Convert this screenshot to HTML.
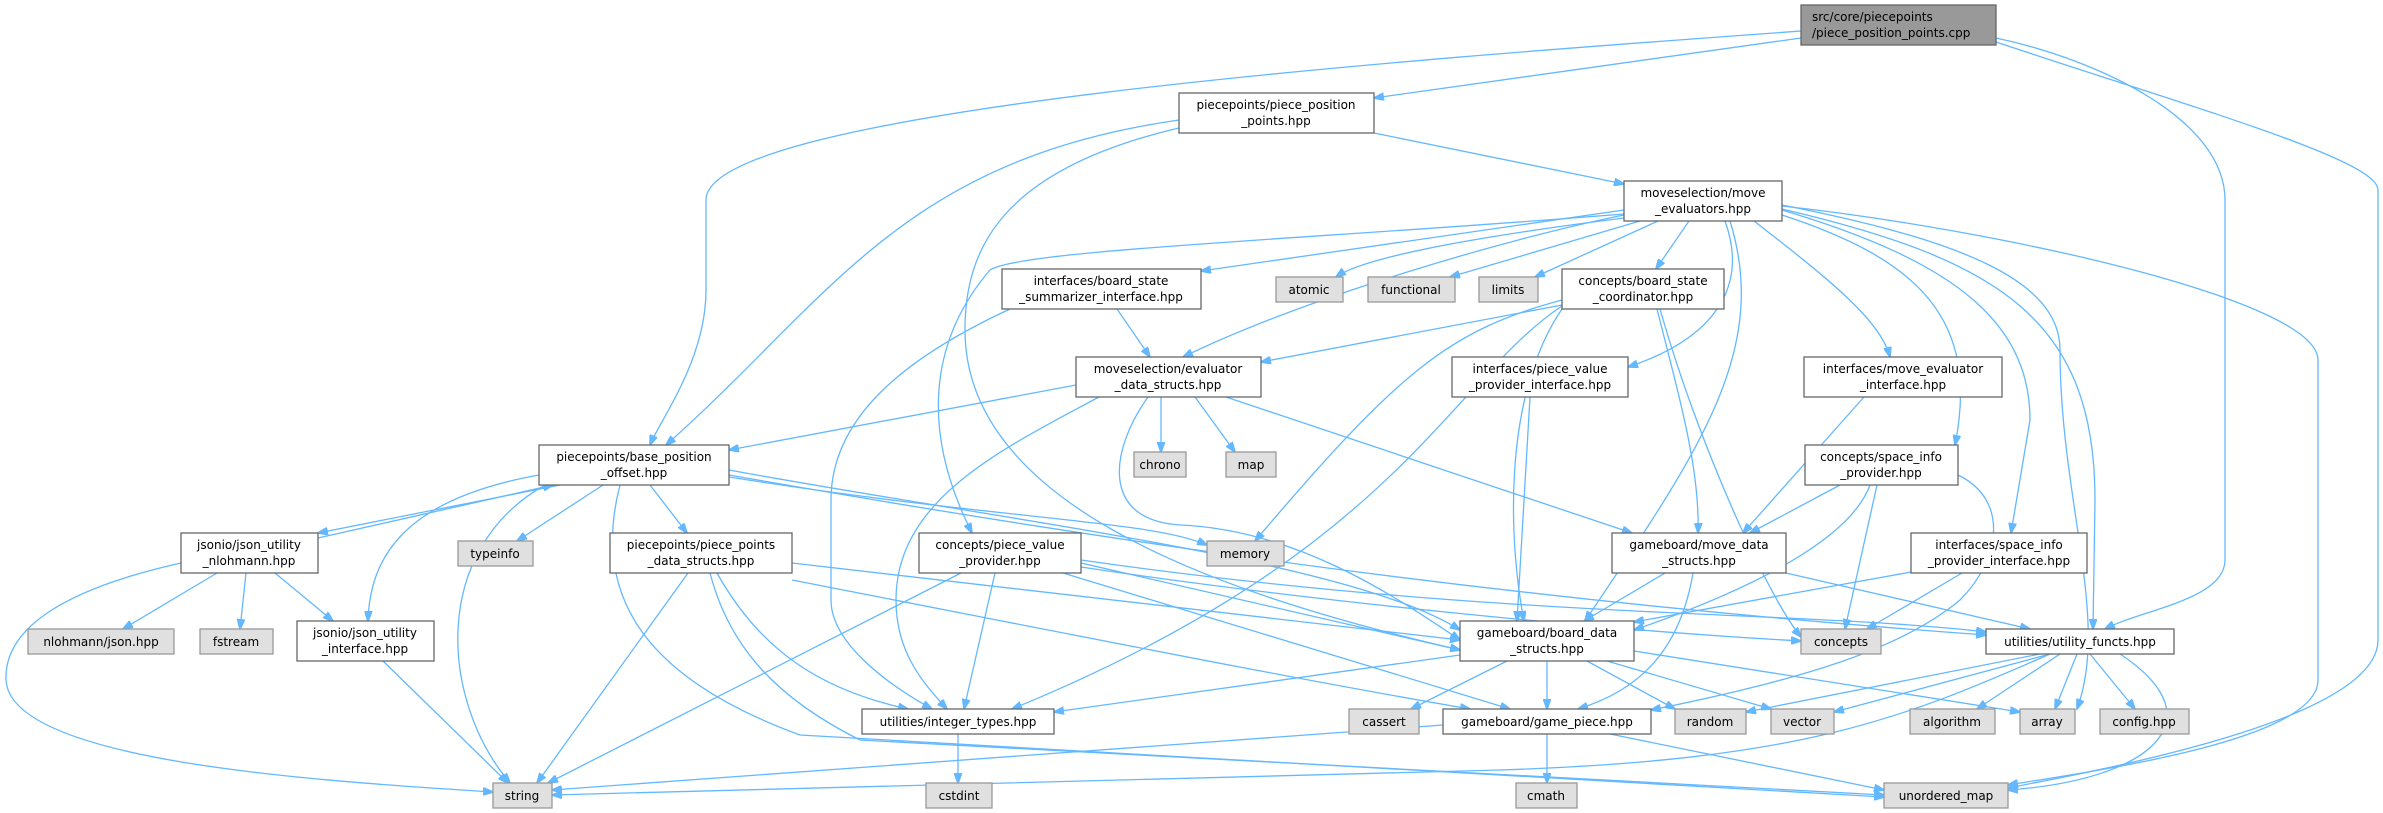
<!DOCTYPE html>
<html><head><meta charset="utf-8"><style>
html,body{margin:0;padding:0;background:#fff;}
svg{display:block;}
text{font-family:"DejaVu Sans","Liberation Sans",sans-serif;font-size:12px;fill:#000;}
.n{fill:#fff;stroke:#666;stroke-width:1.3}
.g{fill:#e0e0e0;stroke:#999;stroke-width:1.3}
.e{fill:none;stroke:#63b8ff;stroke-width:1.3}
</style></head><body>
<svg width="2383" height="813" viewBox="0 0 2383 813" xmlns="http://www.w3.org/2000/svg">
<defs><marker id="a" markerWidth="11" markerHeight="8" refX="10" refY="4" orient="auto" markerUnits="userSpaceOnUse"><path d="M0,0 L11,4 L0,8 z" fill="#63b8ff" stroke="#63b8ff"/></marker></defs>
<g class="e" marker-end="url(#a)">
<path d="M1801,38 L1374,98"/>
<path d="M1801,31 C1400,60 706,110 706,200 L706,290 C706,360 660,420 650,445"/>
<path d="M1996,38 C2100,60 2225,120 2225,200 L2225,560 C2225,600 2140,610 2105,629"/>
<path d="M1996,42 C2200,110 2378,160 2378,190 L2378,640 C2378,720 2100,770 2008,788"/>
<path d="M1179,120 C900,160 830,300 666,445"/>
<path d="M1179,128 C1000,170 965,250 965,330 C965,500 1200,590 1460,650"/>
<path d="M1374,133 L1624,184"/>
<path d="M1624,210 L1201,271"/>
<path d="M1624,215 C1500,240 1300,300 1183,357"/>
<path d="M1562,305 L1261,362"/>
<path d="M1117,309 L1150,357"/>
<path d="M1010,309 C900,360 831,420 831,500 L831,600 C831,640 880,680 932,709"/>
<path d="M1624,218 C1450,240 1360,260 1336,277"/>
<path d="M1640,221 L1450,277"/>
<path d="M1658,221 L1535,277"/>
<path d="M1689,221 L1656,269"/>
<path d="M1725,221 C1750,290 1710,340 1628,367"/>
<path d="M1754,221 C1830,280 1880,320 1890,357"/>
<path d="M1624,214 C1300,240 1020,250 990,270 C930,340 920,430 972,533"/>
<path d="M1730,221 C1770,350 1700,450 1585,621"/>
<path d="M1782,215 C1920,260 1980,320 1955,445"/>
<path d="M1782,210 C1950,260 2030,320 2030,420 L2011,533"/>
<path d="M1782,209 C2000,260 2095,320 2095,500 L2093,629"/>
<path d="M1782,205 C1960,240 2060,280 2060,350 C2060,500 2110,620 2077,709"/>
<path d="M1782,206 C2000,230 2318,300 2318,360 L2318,680 C2318,740 2100,770 2008,785"/>
<path d="M1562,300 C1450,330 1400,370 1255,541"/>
<path d="M1562,306 C1450,380 1400,550 1012,709"/>
<path d="M1562,309 C1500,400 1510,550 1524,621"/>
<path d="M1657,309 C1680,400 1700,470 1698,533"/>
<path d="M1660,309 C1700,450 1770,600 1801,637"/>
<path d="M1076,385 L729,450"/>
<path d="M1161,397 L1161,452"/>
<path d="M1195,397 L1235,452"/>
<path d="M1226,397 L1632,533"/>
<path d="M1099,397 C1000,450 896,500 896,600 C896,650 920,680 947,709"/>
<path d="M1148,397 C1110,450 1100,520 1180,525 C1300,530 1400,600 1460,640"/>
<path d="M1530,397 L1517,621"/>
<path d="M1864,397 L1743,533"/>
<path d="M1840,485 L1750,533"/>
<path d="M1870,485 C1850,540 1750,590 1634,630"/>
<path d="M1877,485 L1845,629"/>
<path d="M1958,475 C2010,500 2000,560 1960,600 C1900,650 1800,680 1651,710"/>
<path d="M1911,572 L1634,622"/>
<path d="M1962,573 L1867,629"/>
<path d="M1665,573 L1584,621"/>
<path d="M1693,573 C1680,650 1640,690 1578,709"/>
<path d="M1786,573 L2030,629"/>
<path d="M1460,655 L1054,712"/>
<path d="M1507,661 L1411,709"/>
<path d="M1547,661 L1547,709"/>
<path d="M1587,661 L1675,709"/>
<path d="M1607,661 L1771,709"/>
<path d="M1634,651 L2020,712"/>
<path d="M2060,654 L1977,709"/>
<path d="M2077,654 L2055,709"/>
<path d="M2090,654 L2135,709"/>
<path d="M2120,654 C2220,720 2150,780 2008,790"/>
<path d="M2040,654 L1746,712"/>
<path d="M2050,654 L1834,712"/>
<path d="M2050,654 C1900,720 1800,760 1500,770 L552,795"/>
<path d="M1443,725 L552,790"/>
<path d="M1547,734 L1547,783"/>
<path d="M1610,734 L1884,790"/>
<path d="M958,734 L958,783"/>
<path d="M710,573 C730,650 780,700 860,740 L1884,795"/>
<path d="M620,485 C590,600 650,680 800,735 L1884,797"/>
<path d="M560,485 L318,533"/>
<path d="M318,538 L553,485"/>
<path d="M539,475 C400,500 370,560 368,621"/>
<path d="M545,485 C430,550 440,700 510,783"/>
<path d="M603,485 L517,541"/>
<path d="M650,485 L687,533"/>
<path d="M729,477 C1000,520 1150,520 1207,545"/>
<path d="M729,470 C1000,520 1350,560 1460,630"/>
<path d="M729,475 C1100,540 1500,600 1986,635"/>
<path d="M217,573 L123,629"/>
<path d="M246,573 L240,629"/>
<path d="M275,573 L333,621"/>
<path d="M181,563 C60,590 4,630 6,680 C10,760 300,780 493,792"/>
<path d="M383,661 L508,783"/>
<path d="M688,573 L537,783"/>
<path d="M717,573 C760,650 820,690 908,709"/>
<path d="M792,580 C1100,640 1300,680 1470,709"/>
<path d="M792,563 L1460,640"/>
<path d="M961,573 L548,783"/>
<path d="M995,573 L964,709"/>
<path d="M1081,563 L1460,650"/>
<path d="M1063,573 L1510,709"/>
<path d="M1081,567 C1300,600 1600,630 1801,641"/>
<path d="M1081,560 C1500,620 1800,610 1986,632"/>
</g>
<rect x="1801" y="5" width="195" height="40" fill="#999" stroke="#666" stroke-width="1.3"/>
<text x="1812" y="21">src/core/piecepoints</text><text x="1812" y="37">/piece_position_points.cpp</text>
<g>
<rect class="n" x="1179" y="93" width="195" height="40"/><text x="1276" y="109" text-anchor="middle">piecepoints/piece_position</text><text x="1276" y="125" text-anchor="middle">_points.hpp</text>
<rect class="n" x="1624" y="181" width="158" height="40"/><text x="1703" y="197" text-anchor="middle">moveselection/move</text><text x="1703" y="213" text-anchor="middle">_evaluators.hpp</text>
<rect class="n" x="1002" y="269" width="199" height="40"/><text x="1101" y="285" text-anchor="middle">interfaces/board_state</text><text x="1101" y="301" text-anchor="middle">_summarizer_interface.hpp</text>
<rect class="g" x="1276" y="277" width="67" height="25"/><text x="1309" y="294" text-anchor="middle">atomic</text>
<rect class="g" x="1368" y="277" width="87" height="25"/><text x="1411" y="294" text-anchor="middle">functional</text>
<rect class="g" x="1479" y="277" width="59" height="25"/><text x="1508" y="294" text-anchor="middle">limits</text>
<rect class="n" x="1562" y="269" width="162" height="40"/><text x="1643" y="285" text-anchor="middle">concepts/board_state</text><text x="1643" y="301" text-anchor="middle">_coordinator.hpp</text>
<rect class="n" x="1076" y="357" width="185" height="40"/><text x="1168" y="373" text-anchor="middle">moveselection/evaluator</text><text x="1168" y="389" text-anchor="middle">_data_structs.hpp</text>
<rect class="n" x="1452" y="357" width="176" height="40"/><text x="1540" y="373" text-anchor="middle">interfaces/piece_value</text><text x="1540" y="389" text-anchor="middle">_provider_interface.hpp</text>
<rect class="n" x="1804" y="357" width="198" height="40"/><text x="1903" y="373" text-anchor="middle">interfaces/move_evaluator</text><text x="1903" y="389" text-anchor="middle">_interface.hpp</text>
<rect class="n" x="539" y="445" width="190" height="40"/><text x="634" y="461" text-anchor="middle">piecepoints/base_position</text><text x="634" y="477" text-anchor="middle">_offset.hpp</text>
<rect class="g" x="1134" y="452" width="52" height="25"/><text x="1160" y="469" text-anchor="middle">chrono</text>
<rect class="g" x="1226" y="452" width="50" height="25"/><text x="1251" y="469" text-anchor="middle">map</text>
<rect class="n" x="1805" y="445" width="153" height="40"/><text x="1881" y="461" text-anchor="middle">concepts/space_info</text><text x="1881" y="477" text-anchor="middle">_provider.hpp</text>
<rect class="n" x="181" y="533" width="137" height="40"/><text x="249" y="549" text-anchor="middle">jsonio/json_utility</text><text x="249" y="565" text-anchor="middle">_nlohmann.hpp</text>
<rect class="g" x="458" y="541" width="75" height="25"/><text x="495" y="558" text-anchor="middle">typeinfo</text>
<rect class="n" x="610" y="533" width="182" height="40"/><text x="701" y="549" text-anchor="middle">piecepoints/piece_points</text><text x="701" y="565" text-anchor="middle">_data_structs.hpp</text>
<rect class="n" x="919" y="533" width="162" height="40"/><text x="1000" y="549" text-anchor="middle">concepts/piece_value</text><text x="1000" y="565" text-anchor="middle">_provider.hpp</text>
<rect class="g" x="1207" y="541" width="77" height="25"/><text x="1245" y="558" text-anchor="middle">memory</text>
<rect class="n" x="1612" y="533" width="174" height="40"/><text x="1699" y="549" text-anchor="middle">gameboard/move_data</text><text x="1699" y="565" text-anchor="middle">_structs.hpp</text>
<rect class="n" x="1911" y="533" width="176" height="40"/><text x="1999" y="549" text-anchor="middle">interfaces/space_info</text><text x="1999" y="565" text-anchor="middle">_provider_interface.hpp</text>
<rect class="g" x="28" y="629" width="146" height="25"/><text x="101" y="646" text-anchor="middle">nlohmann/json.hpp</text>
<rect class="g" x="200" y="629" width="73" height="25"/><text x="236" y="646" text-anchor="middle">fstream</text>
<rect class="n" x="297" y="621" width="137" height="40"/><text x="365" y="637" text-anchor="middle">jsonio/json_utility</text><text x="365" y="653" text-anchor="middle">_interface.hpp</text>
<rect class="n" x="1460" y="621" width="174" height="40"/><text x="1547" y="637" text-anchor="middle">gameboard/board_data</text><text x="1547" y="653" text-anchor="middle">_structs.hpp</text>
<rect class="g" x="1801" y="629" width="80" height="25"/><text x="1841" y="646" text-anchor="middle">concepts</text>
<rect class="n" x="1986" y="629" width="188" height="25"/><text x="2080" y="646" text-anchor="middle">utilities/utility_functs.hpp</text>
<rect class="n" x="862" y="709" width="192" height="25"/><text x="958" y="726" text-anchor="middle">utilities/integer_types.hpp</text>
<rect class="g" x="1349" y="709" width="70" height="25"/><text x="1384" y="726" text-anchor="middle">cassert</text>
<rect class="n" x="1443" y="709" width="208" height="25"/><text x="1547" y="726" text-anchor="middle">gameboard/game_piece.hpp</text>
<rect class="g" x="1675" y="709" width="71" height="25"/><text x="1710" y="726" text-anchor="middle">random</text>
<rect class="g" x="1771" y="709" width="63" height="25"/><text x="1802" y="726" text-anchor="middle">vector</text>
<rect class="g" x="1910" y="709" width="85" height="25"/><text x="1952" y="726" text-anchor="middle">algorithm</text>
<rect class="g" x="2020" y="709" width="55" height="25"/><text x="2047" y="726" text-anchor="middle">array</text>
<rect class="g" x="2100" y="709" width="89" height="25"/><text x="2144" y="726" text-anchor="middle">config.hpp</text>
<rect class="g" x="493" y="783" width="59" height="25"/><text x="522" y="800" text-anchor="middle">string</text>
<rect class="g" x="926" y="783" width="66" height="25"/><text x="959" y="800" text-anchor="middle">cstdint</text>
<rect class="g" x="1516" y="783" width="61" height="25"/><text x="1546" y="800" text-anchor="middle">cmath</text>
<rect class="g" x="1884" y="783" width="124" height="25"/><text x="1946" y="800" text-anchor="middle">unordered_map</text>
</g>
</svg>
</body></html>
